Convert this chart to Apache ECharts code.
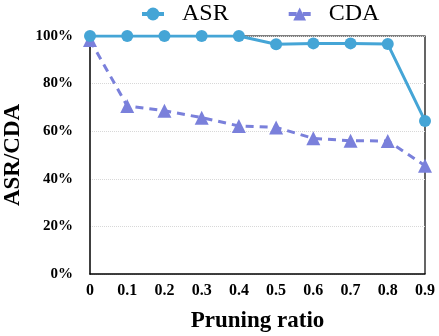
<!DOCTYPE html>
<html>
<head>
<meta charset="utf-8">
<script src="https://cdn.jsdelivr.net/npm/echarts@6/dist/echarts.min.js"></script>
<style>
  html, body { margin: 0; padding: 0; background: #fff; }
  #chart { width: 439px; height: 336px; }
</style>
</head>
<body>
<div id="chart"></div>
<script>
// pruning ratios on x axis
const ratios = ['0', '0.1', '0.2', '0.3', '0.4', '0.5', '0.6', '0.7', '0.8', '0.9']
// attack success rate (%)
const asr = [100, 100, 100, 100, 100, 96.5, 96.9, 96.9, 96.6, 64.3]
// clean data accuracy (%)
const cda = [98.3, 70.6, 68.6, 65.7, 62.2, 61.6, 57.0, 56.0, 55.9, 45.5]

const serif = 'Liberation Serif, Times New Roman, serif'
const chart = echarts.init(document.getElementById('chart'))

chart.setOption({
  animation: false,
  legend: {
    top: 2,
    left: 140,
    padding: 0,
    itemGap: 58,
    itemWidth: 22,
    itemHeight: 16,
    lineStyle: { width: 4 },
    textStyle: { fontFamily: serif, fontSize: 24, color: '#000', padding: [0, 0, 0, 13] },
    data: ['ASR', 'CDA']
  },
  grid: { left: 90, right: 14, top: 36, bottom: 62, outerBoundsMode: 'none', containLabel: false },
  xAxis: {
    type: 'category',
    data: ratios,
    boundaryGap: false,
    name: 'Pruning ratio',
    nameLocation: 'middle',
    nameGap: 36,
    nameTextStyle: { fontFamily: serif, fontSize: 23, fontWeight: 'bold', color: '#000' },
    axisLine: { lineStyle: { color: '#000', width: 1.5 } },
    axisTick: { show: false },
    axisLabel: { fontFamily: serif, fontSize: 16, fontWeight: 'bold', color: '#000', margin: 9 }
  },
  yAxis: {
    type: 'value',
    min: 0,
    max: 100,
    interval: 20,
    name: 'ASR/CDA',
    nameLocation: 'middle',
    nameGap: 60,
    nameTextStyle: { fontFamily: serif, fontSize: 23, fontWeight: 'bold', color: '#000' },
    axisLine: { show: true, lineStyle: { color: '#000', width: 1.5 } },
    axisTick: { show: false },
    axisLabel: {
      fontFamily: serif, fontSize: 15, fontWeight: 'bold', color: '#000', margin: 17,
      formatter: v => v + '%'
    },
    splitLine: { lineStyle: { color: '#d8d8d8', type: 'dotted', width: 1 } }
  },
  graphic: [{
    // frame around the plot area: top and right edges
    type: 'polyline',
    shape: { points: [[90, 36], [425, 36], [425, 274]] },
    style: { stroke: '#000', lineWidth: 1.2, fill: null },
    z: 0
  }],
  series: [
    {
      name: 'ASR',
      type: 'line',
      data: asr,
      symbol: 'circle',
      symbolSize: 12,
      color: '#45a5d6',
      lineStyle: { width: 3 },
      z: 3
    },
    {
      name: 'CDA',
      type: 'line',
      data: cda,
      symbol: 'triangle',
      symbolSize: 14,
      color: '#7a80db',
      lineStyle: { width: 3, type: [8, 6] },
      z: 2
    }
  ]
})
</script>
</body>
</html>
